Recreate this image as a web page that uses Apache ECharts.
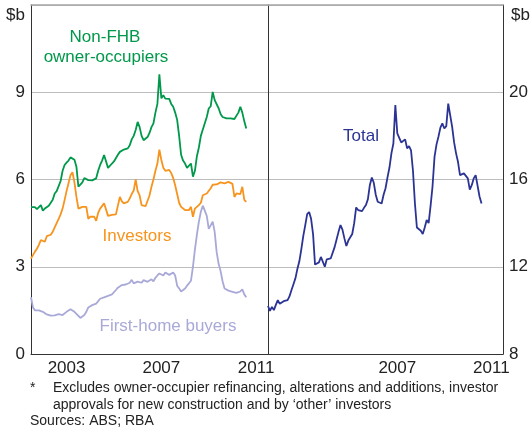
<!DOCTYPE html>
<html>
<head>
<meta charset="utf-8">
<script src="https://cdn.jsdelivr.net/npm/echarts@6/dist/echarts.min.js"></script>
<style>
  html, body { margin: 0; padding: 0; background: #fff; }
  #chart { width: 531px; height: 429px; }
</style>
</head>
<body>
<div id="chart"></div>
<script>
// years on the axis, one band each
const years = ['2002', '2003', '2004', '2005', '2006', '2007', '2008', '2009', '2010', '2011']
const leftYearLabels = ['2003', '2007', '2011']
const rightYearLabels = ['2007', '2011']

// monthly values, Jan 2002 to Feb 2011, $b
const nonFhb = [
  5.05, 5.0, 5.05, 4.98, 4.95, 5.12, 4.93, 5.0, 5.05, 5.1, 5.15, 5.3,
  5.52, 5.6, 5.63, 5.95, 6.3, 6.5, 6.58, 6.65, 6.76, 6.74, 6.68, 6.44,
  5.75, 5.8, 5.9, 6.05, 6.09, 5.98, 6.02, 5.97, 6.0, 6.04, 6.3, 6.5,
  6.65, 6.84, 6.78, 6.4, 6.45, 6.55, 6.62, 6.68, 6.85, 6.95, 7.0, 7.03,
  7.05, 7.07, 7.18, 7.38, 7.5, 7.7, 7.98, 7.8, 7.5, 7.35, 7.38, 7.46,
  7.6, 7.8, 7.93, 8.3, 8.6, 9.62, 8.79, 8.9, 8.78, 8.75, 8.77, 8.6,
  8.5, 8.3, 8.05, 7.5, 6.85, 6.65, 6.55, 6.4, 6.38, 6.55, 6.1, 6.3,
  6.8, 7.1, 7.5, 7.72, 7.75, 8.15, 8.44, 8.52, 9.01, 8.73, 8.67, 8.45,
  8.25, 8.15, 8.12, 8.1, 8.12, 8.1, 8.12, 8.08, 8.1, 8.3, 8.5, 8.3,
  8.0, 7.75
]
const investors = [
  3.28, 3.4, 3.52, 3.62, 3.75, 3.92, 3.9, 3.86, 4.05, 4.09, 4.1, 4.2,
  4.35, 4.5, 4.65, 4.8, 5.0, 5.29, 5.6, 5.87, 6.15, 6.25, 5.9, 5.4,
  5.0, 5.05, 5.06, 5.02, 5.06, 4.65, 4.72, 4.7, 4.72, 4.58, 4.85, 5.0,
  5.06, 5.18, 5.12, 4.75, 4.72, 4.78, 4.76, 4.8, 5.1, 5.4, 5.25, 5.18,
  5.2, 5.23, 5.35, 5.5, 5.62, 6.0, 5.6, 5.45, 5.12, 5.06, 5.08, 5.12,
  5.45, 5.75, 6.0, 6.3, 6.55, 7.03, 6.67, 6.4, 6.3, 6.3, 6.33, 6.22,
  6.05, 5.8, 5.5, 5.2, 5.06, 5.0, 4.95, 4.9, 4.95, 5.06, 4.72, 5.0,
  5.05, 5.12, 5.2, 5.46, 5.5, 5.52, 5.52, 5.7, 5.82, 5.87, 5.83, 5.85,
  5.9, 5.88, 5.87, 5.9, 5.92, 5.93, 5.85, 5.4, 5.52, 5.48, 5.5, 5.75,
  5.3, 5.23
]
const firstHome = [
  1.95, 1.6, 1.5, 1.47, 1.5, 1.48, 1.45, 1.42, 1.36, 1.33, 1.32, 1.3,
  1.33, 1.36, 1.37, 1.35, 1.34, 1.4, 1.45, 1.5, 1.54, 1.52, 1.45, 1.38,
  1.32, 1.24, 1.25, 1.34, 1.45, 1.6, 1.65, 1.68, 1.7, 1.73, 1.78, 1.9,
  1.92, 1.95, 1.97, 2.0, 2.0, 2.05, 2.1, 2.2, 2.28, 2.33, 2.37, 2.38,
  2.39, 2.4, 2.45, 2.55, 2.43, 2.47, 2.49, 2.44, 2.45, 2.54, 2.5, 2.48,
  2.52, 2.57, 2.5, 2.62, 2.7, 2.77, 2.73, 2.7, 2.8, 2.75, 2.72, 2.78,
  2.8, 2.7, 2.35, 2.25, 2.15, 2.18, 2.25, 2.35, 2.43, 2.52, 3.0, 3.6,
  4.1, 4.55, 4.89, 5.1, 5.1, 4.75, 4.3, 4.25, 4.55, 4.2, 3.5, 3.1,
  2.85, 2.5, 2.25, 2.2, 2.18, 2.16, 2.14, 2.12, 2.1, 2.1, 2.15, 2.22,
  2.05, 1.95
]
const total = [
  10.2, 9.98, 10.16, 10.01, 10.25, 10.47, 10.3, 10.29, 10.42, 10.44, 10.47, 10.65,
  10.93, 11.2, 11.47, 11.9, 12.25, 12.8, 13.4, 13.9, 14.41, 14.51, 14.2, 13.5,
  12.1, 12.05, 12.2, 12.45, 12.46, 12.0, 12.34, 12.33, 12.38, 12.3, 12.9, 13.25,
  13.6, 13.91, 13.7, 13.3, 12.95, 13.2, 13.35, 13.5, 14.0, 14.72, 14.6, 14.67,
  14.55, 14.7, 14.83, 15.1, 15.75, 16.09, 15.85, 15.3, 14.98, 14.95, 14.9, 15.3,
  15.6, 16.1, 16.55, 17.2, 17.65, 19.41, 18.11, 18.05, 17.7, 17.75, 17.84, 17.43,
  17.53, 17.34, 16.4, 14.9, 13.8, 13.72, 13.65, 13.5, 13.8, 14.14, 14.0, 14.8,
  15.7, 17.04, 17.6, 17.96, 18.38, 18.57, 18.34, 18.45, 19.48, 18.95, 18.41, 17.7,
  17.2, 16.8, 16.2, 16.25, 16.28, 16.2, 16.05, 15.54, 15.74, 16.05, 16.2, 16.28,
  15.21, 14.9
]

const font = 'Liberation Sans, Arial, sans-serif'
const dark = '#333'
const gridGrey = '#bdbdbd'

const toPoints = arr => arr.map((v, i) => [i, v])

const yearAxis = (gridIndex, shown) => ({
  type: 'category',
  gridIndex: gridIndex,
  data: years,
  boundaryGap: true,
  axisLine: { onZero: false, lineStyle: { color: dark, width: 1 } },
  axisTick: { inside: true, length: 5, interval: 0, lineStyle: { color: dark } },
  axisLabel: {
    interval: (i, v) => shown.includes(v),
    margin: 6,
    fontFamily: font,
    fontSize: 17,
    color: '#222'
  }
})

// months scale for the data; its line is the grey top edge of the panel
const monthAxis = gridIndex => ({
  type: 'value', gridIndex: gridIndex, min: 0, max: 120, position: 'top',
  axisLine: { show: true, onZero: false, lineStyle: { color: '#a6a6a6', width: 1.5 } },
  axisTick: { show: false },
  axisLabel: { show: false },
  splitLine: { show: false }
})

const chart = echarts.init(document.getElementById('chart'))
chart.setOption({
  animation: false,
  grid: [
    { left: 31, top: 5, width: 237, height: 349 },
    { left: 268, top: 5, width: 237, height: 349 }
  ],
  xAxis: [yearAxis(0, leftYearLabels), monthAxis(0), yearAxis(1, rightYearLabels), monthAxis(1)],
  yAxis: [
    {
      type: 'value', gridIndex: 0, position: 'left', min: 0, max: 12, interval: 3,
      axisLine: { show: true, onZero: false, lineStyle: { color: dark } },
      axisTick: { show: false },
      splitLine: { lineStyle: { color: gridGrey, width: 1 } },
      axisLabel: {
        formatter: v => (v === 12 ? '' : v),
        margin: 6, fontFamily: font, fontSize: 17, color: '#222'
      }
    },
    {
      type: 'value', gridIndex: 1, position: 'right', min: 8, max: 24, interval: 4,
      axisLine: { show: true, onZero: false, lineStyle: { color: dark } },
      axisTick: { show: false },
      splitLine: { lineStyle: { color: gridGrey, width: 1 } },
      axisLabel: {
        formatter: v => (v === 24 ? '' : v),
        margin: 6, fontFamily: font, fontSize: 17, color: '#222'
      }
    },
    {
      // divider between the two panels
      type: 'value', gridIndex: 1, position: 'left', min: 8, max: 24, interval: 4,
      axisLine: { show: true, onZero: false, lineStyle: { color: dark } },
      axisTick: { show: false },
      axisLabel: { show: false },
      splitLine: { show: false }
    }
  ],
  series: [
    {
      name: 'Non-FHB owner-occupiers', type: 'line', xAxisIndex: 1, yAxisIndex: 0,
      data: toPoints(nonFhb), showSymbol: false,
      lineStyle: { color: '#00984a', width: 1.8 }
    },
    {
      name: 'Investors', type: 'line', xAxisIndex: 1, yAxisIndex: 0,
      data: toPoints(investors), showSymbol: false,
      lineStyle: { color: '#f7941d', width: 1.8 }
    },
    {
      name: 'First-home buyers', type: 'line', xAxisIndex: 1, yAxisIndex: 0,
      data: toPoints(firstHome), showSymbol: false,
      lineStyle: { color: '#a9a9d8', width: 1.8 }
    },
    {
      name: 'Total', type: 'line', xAxisIndex: 3, yAxisIndex: 1,
      data: toPoints(total), showSymbol: false,
      lineStyle: { color: '#2b3494', width: 1.8 }
    }
  ],
  graphic: [
    { type: 'text', style: { text: '$b', x: 25, y: 15, align: 'right', verticalAlign: 'middle', font: '17px ' + font, fill: '#222' } },
    { type: 'text', style: { text: '$b', x: 511, y: 15, align: 'left', verticalAlign: 'middle', font: '17px ' + font, fill: '#222' } },
    { type: 'text', style: { text: 'Non-FHB', x: 105, y: 37, align: 'center', verticalAlign: 'middle', font: '17px ' + font, fill: '#00984a' } },
    { type: 'text', style: { text: 'owner-occupiers', x: 106, y: 57, align: 'center', verticalAlign: 'middle', font: '17px ' + font, fill: '#00984a' } },
    { type: 'text', style: { text: 'Investors', x: 137, y: 236, align: 'center', verticalAlign: 'middle', font: '17px ' + font, fill: '#f7941d' } },
    { type: 'text', style: { text: 'First-home buyers', x: 168, y: 326, align: 'center', verticalAlign: 'middle', font: '17px ' + font, fill: '#a9a9d8' } },
    { type: 'text', style: { text: 'Total', x: 361, y: 136, align: 'center', verticalAlign: 'middle', font: '17px ' + font, fill: '#2b3494' } },
    { type: 'text', style: { text: '*', x: 30, y: 388, align: 'left', verticalAlign: 'middle', font: '14px ' + font, fill: '#222' } },
    { type: 'text', style: { text: 'Excludes owner-occupier refinancing, alterations and additions, investor', x: 53, y: 388, align: 'left', verticalAlign: 'middle', font: '14px ' + font, fill: '#222' } },
    { type: 'text', style: { text: 'approvals for new construction and by ‘other’ investors', x: 53, y: 405, align: 'left', verticalAlign: 'middle', font: '14px ' + font, fill: '#222' } },
    { type: 'text', style: { text: 'Sources: ABS; RBA', x: 30, y: 421, align: 'left', verticalAlign: 'middle', font: '14px ' + font, fill: '#222' } }
  ]
})
</script>
</body>
</html>
